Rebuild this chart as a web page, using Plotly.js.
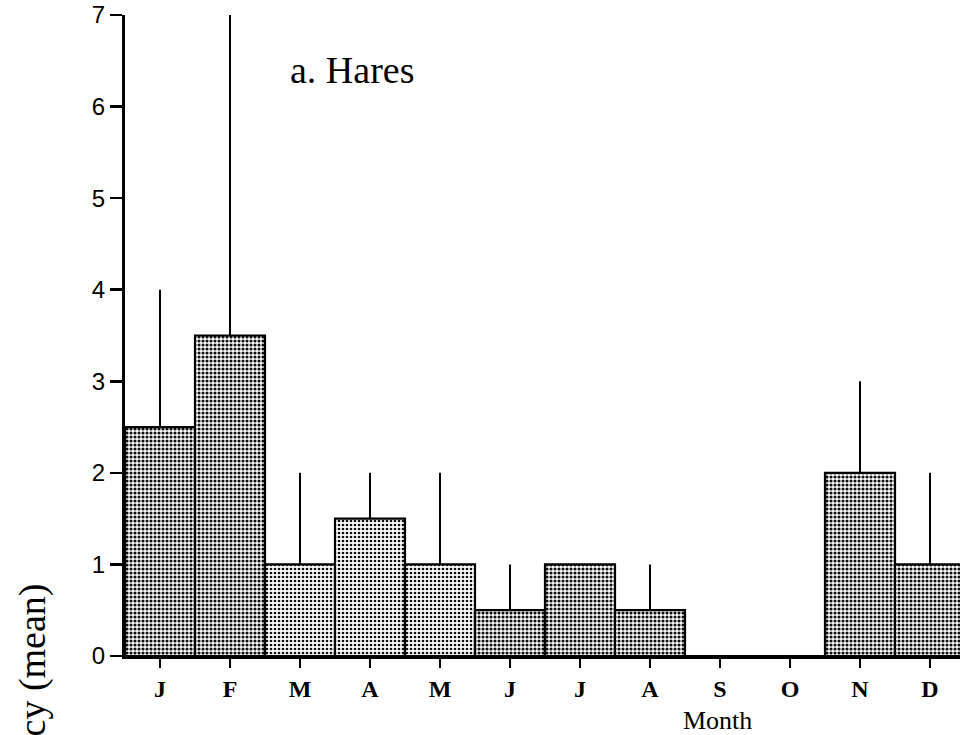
<!DOCTYPE html>
<html>
<head>
<meta charset="utf-8">
<script src="https://cdn.plot.ly/plotly-3.0.1.min.js"></script>
<style>
  html, body { margin: 0; padding: 0; overflow: hidden; background: #fff; }
  #chart { width: 965px; height: 735px; }
</style>
</head>
<body>
<div id="chart"></div>
<script>
const months = ["J", "F", "M", "A", "M", "J", "J", "A", "S", "O", "N", "D"];
const meanFreq = [2.5, 3.5, 1.0, 1.5, 1.0, 0.5, 1.0, 0.5, 0.0, 0.0, 2.0, 1.0];
const upperErr = [1.5, 3.5, 1.0, 0.5, 1.0, 0.5, 0.0, 0.5, 0.0, 0.0, 1.0, 1.0];
const yTicks = [0, 1, 2, 3, 4, 5, 6, 7];

const idx = months.map((_, i) => i);
const dotDensity = idx.map(i => (i >= 2 && i <= 4) ? 0.36 : 0.48);

const trace = {
  type: "bar",
  x: idx,
  y: meanFreq,
  width: 1,
  marker: {
    color: "#ffffff",
    line: { color: "#000000", width: 2.2 },
    pattern: { shape: ".", fgcolor: "#111111", bgcolor: "#ffffff", size: 4, solidity: dotDensity }
  },
  error_y: {
    type: "data",
    symmetric: false,
    array: upperErr,
    arrayminus: upperErr.map(() => 0),
    width: 0,
    thickness: 2,
    color: "#000000"
  },
  hoverinfo: "skip"
};

const layout = {
  width: 965,
  height: 735,
  margin: { l: 125, r: 0, t: 15, b: 79 },
  paper_bgcolor: "#ffffff",
  plot_bgcolor: "#ffffff",
  showlegend: false,
  bargap: 0,
  xaxis: {
    range: [-0.5, 11.5],
    tickmode: "array",
    tickvals: idx,
    ticktext: months,
    ticks: "outside",
    ticklen: 9,
    tickwidth: 2.5,
    tickcolor: "#000",
    showline: true,
    linecolor: "#000",
    linewidth: 3,
    showgrid: false,
    zeroline: false,
    tickfont: { family: "Liberation Serif", size: 24, color: "#000", weight: "bold" },
    fixedrange: true
  },
  yaxis: {
    range: [0, 7],
    tickmode: "array",
    tickvals: yTicks,
    ticks: "outside",
    ticklen: 12,
    tickwidth: 2.5,
    tickcolor: "#000",
    showline: true,
    linecolor: "#000",
    linewidth: 3,
    showgrid: false,
    zeroline: false,
    tickfont: { family: "Liberation Sans", size: 24, color: "#000" },
    fixedrange: true
  },
  annotations: [
    {
      text: "a. Hares",
      xref: "paper", yref: "paper",
      x: (352 - 125) / 840, y: (656 - 70) / 641,
      xanchor: "center", yanchor: "middle",
      showarrow: false,
      font: { family: "Liberation Serif", size: 38, color: "#000" }
    },
    {
      text: "Month",
      xref: "paper", yref: "paper",
      x: (717 - 125) / 840, y: (656 - 720) / 641,
      xanchor: "center", yanchor: "middle",
      showarrow: false,
      font: { family: "Liberation Serif", size: 26, color: "#000" }
    },
    {
      text: "Frequency (mean)",
      xref: "paper", yref: "paper",
      x: (32 - 125) / 840, y: (656 - 722) / 641,
      xanchor: "center", yanchor: "middle",
      textangle: -90,
      showarrow: false,
      font: { family: "Liberation Serif", size: 38, color: "#000" }
    }
  ]
};

Plotly.newPlot("chart", [trace], layout, { staticPlot: true, displayModeBar: false });
</script>
</body>
</html>
